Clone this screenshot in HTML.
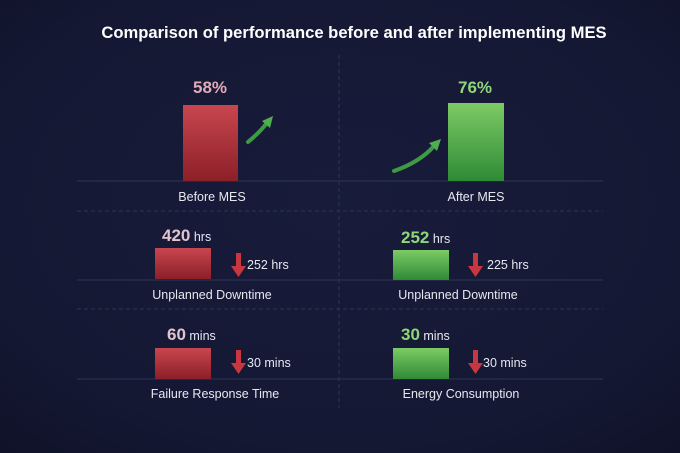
<!DOCTYPE html>
<html><head><meta charset="utf-8"><style>
html,body{margin:0;padding:0;}
body{width:680px;height:453px;overflow:hidden;background:#161a36;}
svg{display:block;}
text{font-family:"Liberation Sans",sans-serif;}
</style></head><body>
<svg width="680" height="453" viewBox="0 0 680 453" xmlns="http://www.w3.org/2000/svg">
<defs>
<radialGradient id="bg" cx="50%" cy="45%" r="75%">
<stop offset="0" stop-color="#181c3b"/><stop offset="0.7" stop-color="#141833"/><stop offset="1" stop-color="#0f1228"/>
</radialGradient>
<linearGradient id="rg" x1="0" y1="0" x2="0" y2="1"><stop offset="0" stop-color="#c8464f"/><stop offset="1" stop-color="#8c1f28"/></linearGradient>
<linearGradient id="gg" x1="0" y1="0" x2="0" y2="1"><stop offset="0" stop-color="#7ccb65"/><stop offset="1" stop-color="#2f8a36"/></linearGradient>
</defs>
<rect width="680" height="453" fill="url(#bg)"/>
<text x="354" y="38" text-anchor="middle" fill="#fff" font-size="16.6" font-weight="bold">Comparison of performance before and after implementing MES</text>
<g stroke="#2f3454" stroke-width="1">
<line x1="339" y1="55" x2="339" y2="408" stroke-dasharray="4,3"/>
<line x1="77" y1="181" x2="603" y2="181"/>
<line x1="77" y1="211" x2="603" y2="211" stroke-dasharray="4,3"/>
<line x1="77" y1="280" x2="603" y2="280"/>
<line x1="77" y1="309" x2="603" y2="309" stroke-dasharray="4,3"/>
<line x1="77" y1="379" x2="603" y2="379"/>
</g>
<rect x="183" y="105" width="55" height="76" fill="url(#rg)"/>
<text x="210" y="93" text-anchor="middle" fill="#e2a9b8" font-size="17" font-weight="bold">58%</text>
<rect x="448" y="103" width="56" height="78" fill="url(#gg)"/>
<text x="475" y="93" text-anchor="middle" fill="#8fd57a" font-size="17" font-weight="bold">76%</text>
<g fill="none" stroke="#3f9a45" stroke-width="4" stroke-linecap="round">
<path d="M248 142 Q260 132 266 124"/>
<path d="M394 171 Q420 162 434 146"/>
</g>
<g fill="#4fae4f">
<polygon points="262,121 273,116 270,128"/>
<polygon points="429,143 441,139 437,151"/>
</g>
<text x="212" y="201" text-anchor="middle" fill="#e6e8f0" font-size="12.5">Before MES</text>
<text x="476" y="201" text-anchor="middle" fill="#e6e8f0" font-size="12.5">After MES</text>
<rect x="155" y="248" width="56" height="31" fill="url(#rg)"/>
<text x="162" y="241" fill="#e2c4cc" font-size="17" font-weight="bold">420<tspan font-size="12.5" font-weight="normal" fill="#e6e8f0"> hrs</tspan></text>
<rect x="393" y="250" width="56" height="30" fill="url(#gg)"/>
<text x="401" y="243" fill="#8fd57a" font-size="17" font-weight="bold">252<tspan font-size="12.5" font-weight="normal" fill="#e6e8f0"> hrs</tspan></text>
<text x="247" y="269" fill="#e6e8f0" font-size="12.5">252 hrs</text>
<text x="487" y="269" fill="#e6e8f0" font-size="12.5">225 hrs</text>
<text x="212" y="299" text-anchor="middle" fill="#e6e8f0" font-size="12.5">Unplanned Downtime</text>
<text x="458" y="299" text-anchor="middle" fill="#e6e8f0" font-size="12.5">Unplanned Downtime</text>
<rect x="155" y="348" width="56" height="31" fill="url(#rg)"/>
<text x="167" y="340" fill="#e2c4cc" font-size="17" font-weight="bold">60<tspan font-size="12.5" font-weight="normal" fill="#e6e8f0"> mins</tspan></text>
<rect x="393" y="348" width="56" height="31" fill="url(#gg)"/>
<text x="401" y="340" fill="#8fd57a" font-size="17" font-weight="bold">30<tspan font-size="12.5" font-weight="normal" fill="#e6e8f0"> mins</tspan></text>
<text x="247" y="367" fill="#e6e8f0" font-size="12.5">30 mins</text>
<text x="483" y="367" fill="#e6e8f0" font-size="12.5">30 mins</text>
<text x="215" y="398" text-anchor="middle" fill="#e6e8f0" font-size="12.5">Failure Response Time</text>
<text x="461" y="398" text-anchor="middle" fill="#e6e8f0" font-size="12.5">Energy Consumption</text>
<g fill="#c8373f">
<path d="M236 253h5v13h5l-7.5 11l-7.5-11h5z"/>
<path d="M473 253h5v13h5l-7.5 11l-7.5-11h5z"/>
<path d="M236 350h5v13h5l-7.5 11l-7.5-11h5z"/>
<path d="M473 350h5v13h5l-7.5 11l-7.5-11h5z"/>
</g>
</svg>
</body></html>
